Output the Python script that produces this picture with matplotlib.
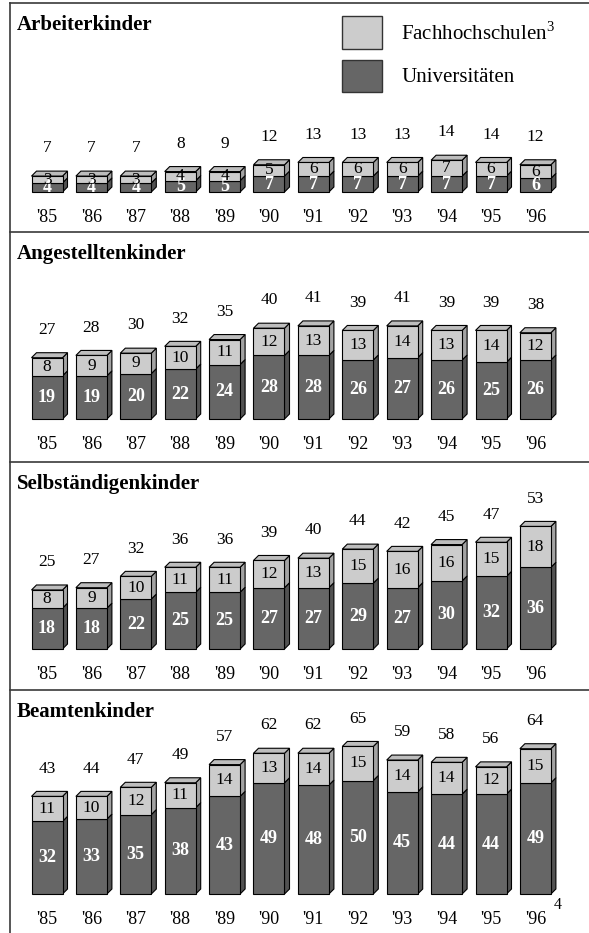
import matplotlib
matplotlib.use("Agg")
import matplotlib.pyplot as plt
from matplotlib.patches import Polygon, Rectangle
from matplotlib.lines import Line2D

plt.rcParams['font.family'] = ['Liberation Serif', 'DejaVu Serif']

years = ["'85", "'86", "'87", "'88", "'89", "'90", "'91", "'92", "'93", "'94", "'95", "'96"]
groups = ["Arbeiterkinder", "Angestelltenkinder", "Selbständigenkinder", "Beamtenkinder"]

uni_arbeiter = [4, 4, 4, 5, 5, 7, 7, 7, 7, 7, 7, 6]
fh_arbeiter = [3, 3, 3, 4, 4, 5, 6, 6, 6, 7, 6, 6]
tot_arbeiter = [7, 7, 7, 8, 9, 12, 13, 13, 13, 14, 14, 12]

uni_angest = [19, 19, 20, 22, 24, 28, 28, 26, 27, 26, 25, 26]
fh_angest = [8, 9, 9, 10, 11, 12, 13, 13, 14, 13, 14, 12]
tot_angest = [27, 28, 30, 32, 35, 40, 41, 39, 41, 39, 39, 38]

uni_selbst = [18, 18, 22, 25, 25, 27, 27, 29, 27, 30, 32, 36]
fh_selbst = [8, 9, 10, 11, 11, 12, 13, 15, 16, 16, 15, 18]
tot_selbst = [25, 27, 32, 36, 36, 39, 40, 44, 42, 45, 47, 53]

uni_beamte = [32, 33, 35, 38, 43, 49, 48, 50, 45, 44, 44, 49]
fh_beamte = [11, 10, 12, 11, 14, 13, 14, 15, 14, 14, 12, 15]
tot_beamte = [43, 44, 47, 49, 57, 62, 62, 65, 59, 58, 56, 64]

legend_labels = ["Fachhochschulen", "Universitäten"]

series = [
    (uni_arbeiter, fh_arbeiter, tot_arbeiter),
    (uni_angest, fh_angest, tot_angest),
    (uni_selbst, fh_selbst, tot_selbst),
    (uni_beamte, fh_beamte, tot_beamte),
]

W, H = 589, 933
fig = plt.figure(figsize=(W / 100, H / 100), dpi=100)

# panel pixel extents (top, bottom, baseline)
panels = [(3, 232, 192), (232, 462, 419), (462, 690, 649), (690, 933, 894)]
scale = 2.27          # px per unit
x0_px, step_px = 47, 44.4
bar_w = 31 / step_px
dx = 5 / step_px
dy = 5 / scale

DARK, DARK_SIDE = '#666666', '#525252'
LIGHT, LIGHT_SIDE, LIGHT_TOP = '#cccccc', '#a3a3a3', '#bdbdbd'
lw = 0.8


def box(ax, x, y0, y1, front, side, top=None):
    l, r = x - bar_w / 2, x + bar_w / 2
    ax.add_patch(Polygon([(r, y0), (r + dx, y0 + dy), (r + dx, y1 + dy), (r, y1)],
                         closed=True, facecolor=side, edgecolor='black', lw=lw))
    if top is not None:
        ax.add_patch(Polygon([(l, y1), (l + dx, y1 + dy), (r + dx, y1 + dy), (r, y1)],
                             closed=True, facecolor=top, edgecolor='black', lw=lw))
    ax.add_patch(Rectangle((l, y0), bar_w, y1 - y0, facecolor=front,
                           edgecolor='black', lw=lw))


for (top_px, bot_px, base_px), name, (uni, fh, tot) in zip(panels, groups, series):
    ax = fig.add_axes([0, 1 - bot_px / H, 1, (bot_px - top_px) / H])
    ax.set_xlim(-x0_px / step_px, (W - x0_px) / step_px)
    ax.set_ylim(-(bot_px - base_px) / scale, (base_px - top_px) / scale)
    ax.axis('off')
    for i, (u, f, t) in enumerate(zip(uni, fh, tot)):
        box(ax, i, 0, u, DARK, DARK_SIDE)
        box(ax, i, u, u + f, LIGHT, LIGHT_SIDE, LIGHT_TOP)
        ax.text(i, u / 2, str(u), ha='center', va='center', color='white',
                fontsize=13, fontweight='bold')
        ax.text(i, u + f / 2, str(f), ha='center', va='center', color='black',
                fontsize=12.5)
        ax.annotate(str(t), (i, u + f), xytext=(0, 20), textcoords='offset points',
                    ha='center', va='center', fontsize=12.5)
        ax.annotate(years[i], (i, 0), xytext=(0, -18.5), textcoords='offset points',
                    ha='center', va='center', fontsize=13)
    fig.text(17 / W, 1 - (top_px + 22) / H, name, ha='left', va='center',
             fontsize=15, fontweight='bold')

# frame lines
line_kw = dict(color='#3a3a3a', lw=1.2, transform=fig.transFigure)
fig.add_artist(Line2D([10 / W, 10 / W], [0, 1 - 3 / H], **line_kw))
for y in [3, 232, 462, 690]:
    fig.add_artist(Line2D([10 / W, 1], [1 - y / H, 1 - y / H], **line_kw))

# legend
for (y_top, y_bot), col, lab in zip([(16, 49), (60, 92)], [LIGHT, DARK], legend_labels):
    fig.add_artist(Rectangle((342 / W, 1 - y_bot / H), 40 / W, (y_bot - y_top) / H,
                             facecolor=col, edgecolor='#333333', lw=1,
                             transform=fig.transFigure))
fig.text(401 / W, 1 - 34 / H, legend_labels[0] + r'$^{\mathregular{3}}$', ha='left', va='center', fontsize=15)
fig.text(401 / W, 1 - 78 / H, legend_labels[1], ha='left', va='center', fontsize=15)

# footnote
fig.text(558 / W, 1 - 905 / H, '4', ha='center', va='center', fontsize=11.5)

fig.savefig('out.png', dpi=100)
